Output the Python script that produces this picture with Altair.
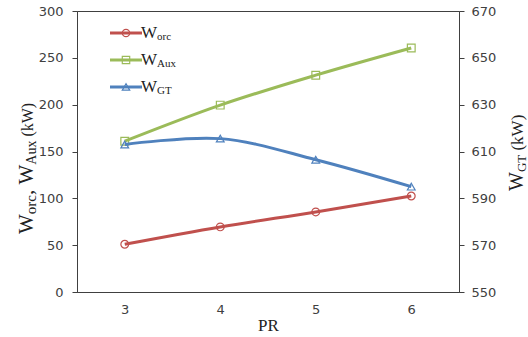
import altair as alt
import pandas as pd

pr = [3, 4, 5, 6]
w_orc = [51, 69.5, 85.5, 102.5]
w_aux = [161, 199.5, 231.5, 260.5]
w_gt = [613, 615.5, 606.5, 595]

series_names = ["Worc", "WAux", "WGT"]
series_colors = ["#C0504D", "#9BBB59", "#4F81BD"]
series_shapes = ["circle", "square", "triangle-up"]

left_df = pd.DataFrame({
    "PR": pr * 2,
    "series": ["Worc"] * 4 + ["WAux"] * 4,
    "value": w_orc + w_aux,
})
right_df = pd.DataFrame({"PR": pr, "series": ["WGT"] * 4, "value": w_gt})

color = alt.Color("series:N", scale=alt.Scale(domain=series_names, range=series_colors), legend=None)
shape = alt.Shape("series:N", scale=alt.Scale(domain=series_names, range=series_shapes), legend=None)

xenc = alt.X("PR:Q", scale=alt.Scale(domain=[2.5, 6.5], nice=False, zero=False),
             axis=alt.Axis(values=[3, 4, 5, 6], ticks=False, labelPadding=11, title="PR",
                           titleFont="Liberation Serif", titleFontSize=17, titleFontWeight="normal",
                           titleColor="#222", titleY=38, titleBaseline="alphabetic"))

yl = alt.Y("value:Q", scale=alt.Scale(domain=[0, 300], nice=False),
           axis=alt.Axis(values=[0, 50, 100, 150, 200, 250, 300], tickSize=5, labelPadding=9, title=None, orient="left"))
yr = alt.Y("value:Q", scale=alt.Scale(domain=[550, 670], nice=False, zero=False),
           axis=alt.Axis(values=[550, 570, 590, 610, 630, 650, 670], tickSize=5, labelPadding=7, title=None, orient="right"))

left = alt.layer(
    alt.Chart(left_df).mark_line(strokeWidth=3, interpolate="catmull-rom").encode(x=xenc, y=yl, color=color),
    alt.Chart(left_df).mark_point(filled=False, size=60, strokeWidth=1.2, opacity=1).encode(x=xenc, y=yl, color=color, shape=shape),
)
right = alt.layer(
    alt.Chart(right_df).mark_line(strokeWidth=3, interpolate="catmull-rom").encode(x=xenc, y=yr, color=color),
    alt.Chart(right_df).mark_point(filled=False, size=60, strokeWidth=1.2, opacity=1).encode(x=xenc, y=yr, color=color, shape=shape),
)

one = pd.DataFrame({"a": [0]})
deco = []
OX, OY = 77, 11  # plot-area origin in page pixels


def px(v):
    return alt.value(v - OX)


def py(v):
    return alt.value(v - OY)


# legend
legend_rows = [("orc", 33), ("Aux", 60), ("GT", 87)]
for (sub, ly), col, shp in zip(legend_rows, series_colors, series_shapes):
    deco.append(alt.Chart(one).mark_rule(color=col, strokeWidth=3).encode(
        x=px(110), x2=px(142), y=py(ly)))
    deco.append(alt.Chart(one).mark_point(filled=False, size=55, strokeWidth=1.2, color=col, shape=shp, opacity=1).encode(
        x=px(126), y=py(ly)))
    deco.append(alt.Chart(one).mark_text(text="W", font="Liberation Serif", fontSize=17, color="#222",
                                         align="left", baseline="alphabetic").encode(
        x=px(141), y=py(ly + 5)))
    deco.append(alt.Chart(one).mark_text(text=sub, font="Liberation Serif", fontSize=11, color="#222",
                                         align="left", baseline="alphabetic").encode(
        x=px(157), y=py(ly + 7)))


def rot_text(txt, size, x, y):
    return alt.Chart(one).mark_text(text=txt, font="Liberation Serif", fontSize=size, color="#222",
                                    angle=270, align="left", baseline="alphabetic").encode(
        x=px(x), y=py(y))


# approx. glyph advance widths (em) for Liberation Serif
adv = {"W": 0.944, "o": 0.5, "r": 0.333, "c": 0.444, ",": 0.25, " ": 0.25, "A": 0.722,
       "u": 0.5, "x": 0.5, "(": 0.333, "k": 0.5, ")": 0.333, "G": 0.722, "T": 0.611}


def stacked_title(pieces, base_x, start_y):
    y = start_y
    for txt, size, is_sub in pieces:
        lead = len(txt) - len(txt.lstrip(" "))
        y -= lead * adv[" "] * size
        core = txt.strip(" ")
        deco.append(rot_text(core, size, base_x + (3 if is_sub else 0), y))
        y -= sum(adv[ch] for ch in txt.lstrip(" ")) * size


stacked_title([("W", 21, False), ("orc", 15, True), (", ", 21, False), ("W", 21, False),
               ("Aux", 14, True), (" (kW)", 16, False)], 33, 234)
stacked_title([("W", 20, False), ("GT", 13, True), (" (kW)", 17, False)], 523, 191)

chart = alt.layer(left, right, *deco).resolve_scale(y="independent").properties(
    width=382, height=281,
    padding={"left": OX, "top": OY, "right": 69, "bottom": 45},
    autosize="none",
).configure_axis(
    labelFont="DejaVu Sans", labelFontSize=13, labelColor="#404040",
    domainColor="#404040", tickColor="#404040", grid=False,
).configure_view(stroke="#404040", strokeWidth=1)

chart.save("out.html", embed_options={"renderer": "svg", "actions": False})
